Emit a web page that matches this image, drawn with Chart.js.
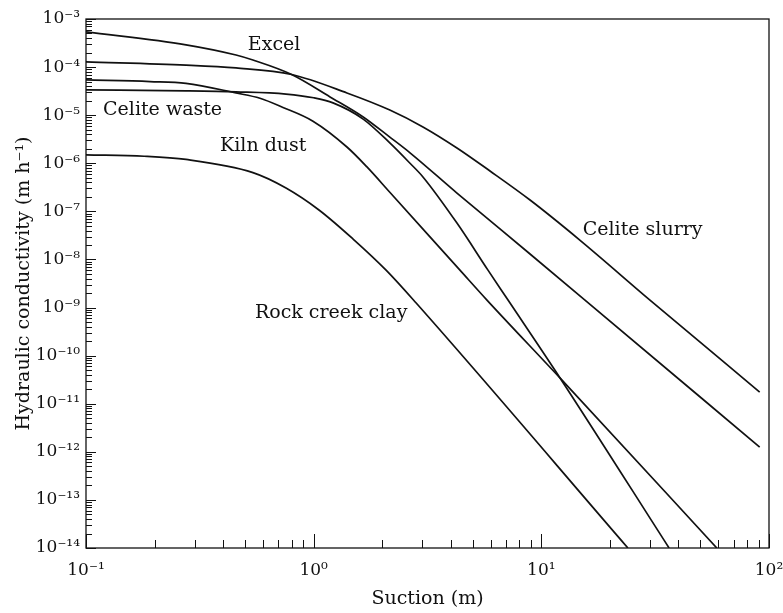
<!DOCTYPE html>
<html>
<head>
<meta charset="utf-8">
<script src="https://cdn.jsdelivr.net/npm/chart.js@4.4.0/dist/chart.umd.min.js"></script>
<style>
  html, body { margin: 0; padding: 0; background: #fff; }
  canvas { display: block; }
</style>
</head>
<body>
<canvas id="chart" width="783" height="613"></canvas>
<script>
// 吸引力 (m) と 透水係数 (m/h) -- 図から読み取った値
const excelSuction = [0.1, 0.275, 0.456, 0.541, 0.8, 1.18, 1.65, 2.16, 2.65, 4.26, 8.92, 15.5, 91];
const excelK = [5.4e-4, 2.9e-4, 1.78e-4, 1.4e-4, 7.0e-5, 2.4e-5, 9.2e-6, 3.5e-6, 1.65e-6, 2.4e-7, 1.3e-8, 1.45e-9, 1.25e-12];

const slurrySuction = [0.1, 0.275, 0.456, 0.8, 1.4, 2.16, 3.02, 4.26, 5.95, 8.92, 14.8, 30, 91];
const slurryK = [1.28e-4, 1.1e-4, 9.6e-5, 7.0e-5, 2.9e-5, 1.28e-5, 5.7e-6, 2.08e-6, 6.9e-7, 1.72e-7, 2.5e-8, 1.43e-9, 1.75e-11];

const wasteSuction = [0.1, 0.275, 0.456, 0.756, 1.0, 1.216, 1.65, 2.16, 2.65, 3.02, 4.26, 5.83, 7.14, 12.1, 36.4];
const wasteK = [3.35e-5, 3.2e-5, 3.05e-5, 2.75e-5, 2.3e-5, 1.8e-5, 8.3e-6, 2.65e-6, 1.0e-6, 5.2e-7, 5.7e-8, 6.0e-9, 1.43e-9, 3.4e-11, 1e-14];

const kilnSuction = [0.1, 0.191, 0.275, 0.456, 0.581, 0.733, 0.993, 1.4, 1.71, 2.16, 4.39, 5.77, 12.1, 59];
const kilnK = [5.4e-5, 5.0e-5, 4.6e-5, 2.9e-5, 2.25e-5, 1.45e-5, 7.5e-6, 2.18e-6, 8.5e-7, 2.5e-7, 6.0e-9, 1.43e-9, 3.4e-11, 1e-14];

const rockSuction = [0.1, 0.18, 0.275, 0.541, 0.756, 1.055, 1.49, 2.08, 2.82, 24];
const rockK = [1.5e-6, 1.4e-6, 1.2e-6, 6.4e-7, 3.06e-7, 1.07e-7, 2.66e-8, 6.0e-9, 1.24e-9, 1e-14];

// 目盛り（10の累乗）
const xTickExps = [-1, 0, 1, 2];
const yTickExps = [-3, -4, -5, -6, -7, -8, -9, -10, -11, -12, -13, -14];
const minorSteps = [2, 3, 4, 5, 6, 7, 8, 9];

// 曲線ラベル（データ座標）
const labelTexts = ['Excel', 'Celite waste', 'Kiln dust', 'Rock creek clay', 'Celite slurry'];
const labelSuction = [0.514, 0.1188, 0.388, 0.552, 15.2];
const labelK = [2.27e-4, 1.01e-5, 1.8e-6, 6.06e-10, 3.22e-8];

const SERIF = '"DejaVu Serif", "Liberation Serif", serif';
const INK = '#111';

const SUP = { '-': '\u207B', '0': '\u2070', '1': '\u00B9', '2': '\u00B2', '3': '\u00B3',
  '4': '\u2074', '5': '\u2075', '6': '\u2076', '7': '\u2077', '8': '\u2078', '9': '\u2079' };

function pow10Label(e) {
    return '10' + String(e).split('').map(c => SUP[c]).join('');
}

function toPoints(xs, ys) {
    return xs.map((x, i) => ({ x: x, y: ys[i] }));
}

// 枠と内向きの目盛り線
const frameAndTicks = {
    id: 'frameAndTicks',
    afterDraw(chart) {
        const { ctx, chartArea: a, scales: { x, y } } = chart;
        ctx.save();
        ctx.strokeStyle = INK;
        ctx.lineWidth = 1.3;
        ctx.strokeRect(a.left, a.top, a.right - a.left, a.bottom - a.top);

        ctx.lineWidth = 1;
        ctx.beginPath();
        yTickExps.forEach(e => {
            const base = Math.pow(10, e);
            const py = Math.round(y.getPixelForValue(base)) + 0.5;
            ctx.moveTo(a.left, py);
            ctx.lineTo(a.left + 10, py);
            if (e < -3) {
                minorSteps.forEach(m => {
                    const my = Math.round(y.getPixelForValue(base * m)) + 0.5;
                    ctx.moveTo(a.left, my);
                    ctx.lineTo(a.left + 6, my);
                });
            }
        });
        xTickExps.forEach(e => {
            const base = Math.pow(10, e);
            const px = Math.round(x.getPixelForValue(base)) + 0.5;
            ctx.moveTo(px, a.bottom);
            ctx.lineTo(px, a.bottom - 14);
            if (e < 2) {
                minorSteps.forEach(m => {
                    const mx = Math.round(x.getPixelForValue(base * m)) + 0.5;
                    ctx.moveTo(mx, a.bottom);
                    ctx.lineTo(mx, a.bottom - 8);
                });
            }
        });
        ctx.stroke();
        ctx.restore();
    }
};

// 曲線の名前
const curveLabels = {
    id: 'curveLabels',
    afterDatasetsDraw(chart) {
        const { ctx, scales: { x, y } } = chart;
        ctx.save();
        ctx.fillStyle = INK;
        ctx.font = '19px ' + SERIF;
        ctx.textAlign = 'left';
        ctx.textBaseline = 'alphabetic';
        labelTexts.forEach((t, i) => {
            ctx.fillText(t, x.getPixelForValue(labelSuction[i]), y.getPixelForValue(labelK[i]));
        });
        ctx.restore();
    }
};

function curve(xs, ys) {
    return {
        data: toPoints(xs, ys),
        borderColor: INK,
        borderWidth: 1.7,
        pointRadius: 0,
        fill: false,
        cubicInterpolationMode: 'monotone'
    };
}

new Chart(document.getElementById('chart'), {
    type: 'line',
    data: {
        datasets: [
            curve(excelSuction, excelK),
            curve(slurrySuction, slurryK),
            curve(wasteSuction, wasteK),
            curve(kilnSuction, kilnK),
            curve(rockSuction, rockK)
        ]
    },
    options: {
        responsive: false,
        animation: false,
        devicePixelRatio: 1,
        layout: { padding: { top: 19, right: 14, left: 0, bottom: 0 } },
        plugins: {
            legend: { display: false },
            tooltip: { enabled: false }
        },
        scales: {
            x: {
                type: 'logarithmic',
                min: 0.1,
                max: 100,
                grid: { display: false, drawTicks: false },
                border: { display: false },
                afterFit: s => { s.height = 65; s.paddingLeft = 0; s.paddingRight = 0; },
                afterBuildTicks: s => { s.ticks = xTickExps.map(e => ({ value: Math.pow(10, e) })); },
                ticks: {
                    autoSkip: false,
                    maxRotation: 0,
                    padding: 12,
                    color: INK,
                    font: { family: SERIF, size: 17 },
                    callback: v => pow10Label(Math.round(Math.log10(v)))
                },
                title: {
                    display: true,
                    text: 'Suction (m)',
                    color: INK,
                    font: { family: SERIF, size: 19 },
                    padding: { top: 0, bottom: 3 }
                }
            },
            y: {
                type: 'logarithmic',
                min: 1e-14,
                max: 1e-3,
                grid: { display: false, drawTicks: false },
                border: { display: false },
                afterFit: s => { s.width = 86; s.paddingTop = 0; s.paddingBottom = 0; },
                afterBuildTicks: s => { s.ticks = yTickExps.map(e => ({ value: Math.pow(10, e) })); },
                ticks: {
                    autoSkip: false,
                    padding: 6,
                    color: INK,
                    font: { family: SERIF, size: 17 },
                    callback: v => pow10Label(Math.round(Math.log10(v)))
                },
                title: {
                    display: true,
                    text: 'Hydraulic conductivity (m h\u207B\u00B9)',
                    color: INK,
                    font: { family: SERIF, size: 19 },
                    padding: { top: 13, bottom: 0 }
                }
            }
        }
    },
    plugins: [frameAndTicks, curveLabels]
});
</script>
</body>
</html>
